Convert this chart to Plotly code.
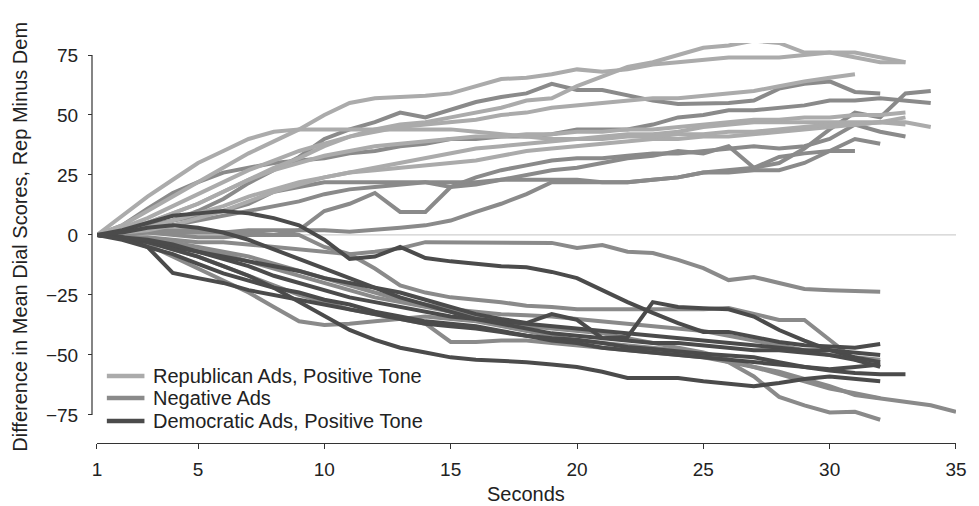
import plotly.graph_objects as go

# ---------------- data ----------------
seconds_ticks = [1, 5, 10, 15, 20, 25, 30, 35]
y_ticks = [-75, -50, -25, 0, 25, 50, 75]

# Republican Ads, Positive Tone (light gray)
rep_pos = [
    [0, 4, 10, 16, 22, 28, 34, 39, 44, 50, 55, 57, 57.5, 58, 59, 62, 65, 65.5, 67, 69, 68, 69, 71, 72, 73, 74, 74, 74, 75, 76, 76, 74, 72],
    [0, 2, 5, 9, 13, 18, 23, 28, 32, 37, 41, 44, 46, 47, 49, 51, 53, 56, 57, 62, 66, 70, 72, 75, 78, 79, 81, 80, 76, 76, 74, 72, 72],
    [0, 3, 7, 12, 17, 22, 27, 31, 35, 38, 41, 43, 45, 46, 47, 48, 50, 51, 53, 54, 55, 56, 57, 57, 58, 59, 60, 62, 64, 65.5, 67],
    [0, 8, 16, 23, 30, 35, 40, 43, 44, 44, 44, 44, 44, 44, 44, 43, 42, 41, 40, 40, 41, 42, 42, 43, 45, 46, 47, 47, 47, 47, 47, 47, 47, 45],
    [0, 2, 5, 9, 13, 18, 23, 27, 30, 33, 35, 37, 38, 39, 40, 41, 41, 42, 42, 43, 43, 44, 44, 45, 46, 47, 48, 48, 49, 49, 50, 50, 51],
    [0, 1, 3, 6, 9, 12, 16, 19, 22, 24, 26, 27, 28, 29, 30, 31, 33, 35, 36, 37, 38, 39, 40, 40, 41, 41, 42, 43, 44, 45, 46, 47, 49],
    [0, 1, 2, 4, 7, 10, 14, 18, 21, 24, 26, 28, 30, 32, 34, 36, 37, 38, 39, 40, 40, 41, 41, 42, 42, 43, 43, 44, 45, 46, 46, 47, 46],
]

# Negative Ads (medium gray)
negative = [
    [0, 1, 3, 6, 10, 15, 21.6, 27, 32.5, 40, 44, 47, 51, 49, 52, 55.4, 57.5, 59, 63, 60.4, 60.4, 58, 56, 54.6, 55, 55, 56, 61, 63, 64, 59.6, 59],
    [0, 1, 2, 4, 6, 8, 10, 12, 14, 17, 19, 20, 21, 22, 22, 22, 23, 23, 23, 23, 22, 22, 23, 24, 26, 27, 28, 30, 36, 44, 51, 49, 59, 60],
    [0, 4, 11, 17.5, 22, 26, 28, 30, 31, 32, 34, 35, 37, 38, 40, 40, 41, 41, 42, 44, 44, 44, 46, 49, 50, 52, 52, 53, 54, 56, 56, 57, 56, 55],
    [0, 1, 1, 0, -1, -1, 0, 0, 2, 10, 13, 17.5, 9.6, 9.6, 20, 24, 27, 29, 31, 32, 32, 33, 34, 34, 35, 36, 37, 36, 37, 40, 46, 43, 41],
    [0, 0, 1, 1, 1, 1, 2, 2, 2, 2, 1.3, 2, 3, 4, 6, 9.6, 13, 17, 22, 22, 22, 22, 23, 24, 26, 26, 27, 27, 30, 35, 40, 38],
    [0, 2, 4, 6, 8, 10, 13, 18, 20, 22, 22, 22, 22, 22, 20, 21, 23, 25, 27, 28, 30, 32, 33, 35, 34, 37, 28, 32.5, 34, 35, 35],
    [0, -1, -1, -2, -3, -3, -4, -5, -6, -7, -8, -7, -5.6, -3, -3, -3, -3, -3, -3.3, -5.4, -4.2, -7, -7.5, -10.4, -13.8, -18.8, -17.5, -20, -22.5, -23, -23.5, -23.7],
    [0, -1, -4, -9, -14, -19, -24, -30, -36, -37.5, -37, -36, -35, -34, -35, -36, -38, -40, -42, -44, -45, -46, -47, -48, -50, -53, -59, -67.5, -71, -74, -73.7, -77],
    [0, -1, -3, -6, -9, -13, -17, -21, -25, -28, -31, -33, -35, -37, -44.6, -44.6, -44, -44, -45, -46, -47, -48, -49, -50, -51, -53, -55, -57, -60, -63, -66.7, -68, -69.6, -71, -73.7],
    [0, 0, -2, -4, -6, -8, -11, -14, -17, -20, -23, -26, -28, -30, -32, -34, -36, -38, -39, -40, -41, -43, -45, -47, -49, -52, -55, -58, -61, -64, -66, -68],
    [0, 1, 2, 2, 2, 1, 1, 0, 0, -5, -8, -14, -21, -24, -26, -27, -28, -29.5, -30, -31, -31, -31, -31, -31, -31, -30.4, -33, -35.4, -35.4, -43.7, -52, -54],
    [0, -1, -2, -3, -5, -7, -9, -12, -15, -18, -21, -24, -27, -29, -31, -32, -33, -33.5, -34, -35, -36, -37, -38, -39, -40, -42, -44, -46, -48, -50, -51, -52],
]

# Democratic Ads, Positive Tone (dark gray)
dem_pos = [
    [0, 2, 5, 8, 9, 10, 9, 7, 4, -2, -10, -9, -5, -9.6, -11, -12, -13, -13.5, -15.4, -18, -23, -28, -32.5, -36.7, -40.4, -40.4, -42.5, -44.6, -46, -46.5, -47, -45.4],
    [0, -1, -3, -5, -7, -9, -11, -13, -15, -18, -20, -22, -24, -27, -30, -33, -35, -36.7, -33, -35.4, -43, -42.5, -28, -30, -30.5, -31, -34, -39.6, -44, -48, -51, -53],
    [0, -1, -5, -15.8, -18, -20, -23, -25, -27, -29, -31, -33, -35, -37, -38, -39, -40.5, -42, -43, -43.7, -45, -46.7, -47.5, -48.7, -49.5, -50.2, -51, -53, -55, -56.5, -57.5, -58, -58],
    [0, -1, -3, -6, -9, -13, -17, -22, -28, -34, -39.6, -43.7, -47, -49, -51, -52, -52.5, -53, -54, -55, -57, -59.6, -59.6, -59.6, -61, -62, -63, -61.7, -60, -59, -60, -61],
    [0, -1, -2, -4, -7, -10, -13, -17, -20, -23, -26, -28, -30, -32, -34, -35, -36, -37, -38, -39, -40, -41, -42, -43, -44, -45, -46, -47, -48, -48, -49, -50],
    [0, -2, -5, -8, -12, -16, -19, -22, -24, -27, -29, -32, -34, -36, -37, -38, -40, -42, -44, -45, -47, -48, -49, -50, -51, -52, -53, -54, -55, -56, -55, -54],
    [0, 1, 3, 4, 3, 1, -2, -6, -10, -14, -18, -22, -26, -29, -32, -35, -37, -39, -41, -42, -43, -44, -45, -45, -46, -47, -48, -48, -49, -50, -52, -55],
]

legend_labels = ["Republican Ads, Positive Tone", "Negative Ads", "Democratic Ads, Positive Tone"]
colors = ["#ababab", "#8a8a8a", "#4b4b4b"]
groups = [
    (legend_labels[0], rep_pos, colors[0]),
    (legend_labels[1], negative, colors[1]),
    (legend_labels[2], dem_pos, colors[2]),
]

fig = go.Figure()
for name, series, color in [groups[1], groups[0], groups[2]]:
    for i, vals in enumerate(series):
        fig.add_trace(go.Scatter(
            x=list(range(1, len(vals) + 1)), y=vals, mode="lines",
            line=dict(color=color, width=4),
            name=name, legendgroup=name, showlegend=False, hoverinfo="skip",
        ))

# ---------------- layout ----------------
# page body has an 8px margin, so figure coords = page coords - 8
W, H = 971, 498
L, R, T, B = 84, 14, 35, 63
pw = W - L - R
ph = H - T - B
font = "Liberation Sans, Arial, Helvetica, sans-serif"
txt = "#222222"


def px(fx):
    return (fx - L) / pw


def py(fy):
    return (H - B - fy) / ph


shapes = [
    dict(type="line", xref="x", yref="y", x0=1, x1=35, y0=0, y1=0,
         line=dict(color="#cfcfcf", width=1.2), layer="below"),
    dict(type="line", xref="paper", yref="y", x0=0, x1=0, y0=-75, y1=75,
         line=dict(color="#333333", width=1.2)),
]
annotations = [
    dict(text="Difference in Mean Dial Scores, Rep Minus Dem", xref="paper", yref="paper",
         x=px(11), y=py(229), xanchor="center", yanchor="middle",
         textangle=-90, showarrow=False, font=dict(size=20, color=txt)),
    dict(text="Seconds", xref="paper", yref="paper",
         x=px(523), y=py(486), xanchor="center", yanchor="middle",
         showarrow=False, font=dict(size=20, color=txt)),
]
# manual legend (tight row spacing as in the reference)
legend_rows_y = [368, 390, 413]
for lab, col, ry in zip(legend_labels, colors, legend_rows_y):
    shapes.append(dict(type="line", xref="paper", yref="paper",
                       x0=px(99), x1=px(137), y0=py(ry), y1=py(ry),
                       line=dict(color=col, width=4.5)))
    annotations.append(dict(text=lab, xref="paper", yref="paper", x=px(144), y=py(ry),
                            xanchor="left", yanchor="middle", showarrow=False,
                            font=dict(size=20, color=txt)))

fig.update_layout(
    width=W, height=H,
    margin=dict(l=L, r=R, t=T, b=B, pad=0),
    paper_bgcolor="white", plot_bgcolor="white",
    font=dict(family=font, size=19, color=txt),
    showlegend=False,
    xaxis=dict(
        domain=[5 / pw, 1], range=[1, 35],
        tickvals=seconds_ticks, ticktext=[str(v) for v in seconds_ticks],
        showgrid=False, zeroline=False,
        showline=True, linecolor="#333333", linewidth=1.2,
        ticks="outside", ticklen=5, tickcolor="#333333", tickwidth=1.2,
        ticklabelstandoff=4,
        tickfont=dict(size=19, color=txt),
    ),
    yaxis=dict(
        anchor="free", position=0,
        range=[-86.7, 80],
        tickvals=y_ticks, ticktext=[str(v).replace("-", "\u2212") for v in y_ticks],
        showgrid=False, zeroline=False, showline=False,
        ticks="outside", ticklen=4, tickcolor="#333333", tickwidth=1.2,
        ticklabelstandoff=6,
        tickfont=dict(size=19, color=txt),
    ),
    shapes=shapes,
    annotations=annotations,
)

fig.write_html("out.html")
